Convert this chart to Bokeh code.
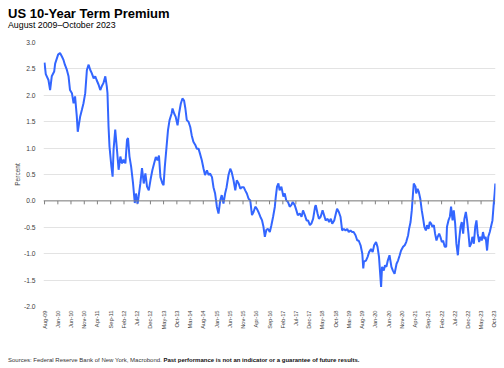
import math
import pandas as pd
from bokeh.plotting import figure
from bokeh.layouts import column
from bokeh.models import (Range1d, FixedTicker, NumeralTickFormatter, Span, Div,
                          ColumnDataSource)
from bokeh.embed import file_html
from bokeh.resources import INLINE

# ---------------- data ----------------
dates = [
    "2009-08-01", "2009-08-15", "2009-09-15", "2009-10-04", "2009-10-23", "2009-11-20", "2009-12-01",
    "2010-01-04", "2010-01-26", "2010-02-18", "2010-03-07", "2010-03-23", "2010-04-15", "2010-05-04",
    "2010-05-21", "2010-06-12", "2010-07-01", "2010-07-18", "2010-08-07", "2010-08-18", "2010-09-15",
    "2010-10-04", "2010-10-23", "2010-11-12", "2010-12-01", "2010-12-21", "2011-01-09", "2011-01-26",
    "2011-02-17", "2011-03-07", "2011-03-23", "2011-04-15", "2011-05-04", "2011-05-21", "2011-06-09",
    "2011-07-01", "2011-07-18", "2011-07-26", "2011-08-07", "2011-08-18", "2011-09-09", "2011-09-23",
    "2011-10-04", "2011-10-23", "2011-11-12", "2011-12-01", "2011-12-21", "2012-01-09", "2012-01-26",
    "2012-02-17", "2012-03-07", "2012-03-18", "2012-04-04", "2012-04-23", "2012-05-15", "2012-06-04",
    "2012-06-18", "2012-07-07", "2012-07-18", "2012-08-07", "2012-08-26", "2012-09-15", "2012-10-04",
    "2012-10-23", "2012-11-12", "2012-12-01", "2012-12-23", "2013-01-12", "2013-02-01", "2013-02-20",
    "2013-03-09", "2013-03-26", "2013-04-18", "2013-05-01", "2013-05-15", "2013-06-04", "2013-06-21",
    "2013-07-09", "2013-08-01", "2013-08-12", "2013-09-01", "2013-09-18", "2013-10-09", "2013-10-26",
    "2013-11-15", "2013-12-04", "2013-12-23", "2014-01-07", "2014-01-23", "2014-02-12", "2014-03-04",
    "2014-03-21", "2014-04-09", "2014-05-01", "2014-05-18", "2014-06-07", "2014-06-23", "2014-07-15",
    "2014-08-04", "2014-08-21", "2014-09-12", "2014-10-01", "2014-10-18", "2014-11-09", "2014-11-26",
    "2014-12-15", "2015-01-04", "2015-01-23", "2015-02-12", "2015-03-01", "2015-03-21", "2015-04-09",
    "2015-04-26", "2015-05-18", "2015-06-07", "2015-06-23", "2015-07-15", "2015-08-04", "2015-08-21",
    "2015-09-12", "2015-10-01", "2015-10-18", "2015-11-09", "2015-11-26", "2015-12-15", "2016-01-04",
    "2016-01-23", "2016-02-12", "2016-03-01", "2016-03-21", "2016-04-09", "2016-04-26", "2016-05-18",
    "2016-06-07", "2016-06-23", "2016-07-09", "2016-07-26", "2016-08-15", "2016-09-04", "2016-09-21",
    "2016-10-12", "2016-11-01", "2016-11-12", "2016-11-26", "2016-12-12", "2016-12-26", "2017-01-15",
    "2017-02-07", "2017-02-23", "2017-03-12", "2017-04-01", "2017-04-21", "2017-05-09", "2017-05-26",
    "2017-06-18", "2017-07-07", "2017-07-23", "2017-08-15", "2017-09-04", "2017-09-21", "2017-10-12",
    "2017-11-01", "2017-11-18", "2017-12-09", "2017-12-26", "2018-01-15", "2018-02-07", "2018-02-15",
    "2018-03-07", "2018-03-23", "2018-04-12", "2018-05-04", "2018-05-21", "2018-06-09", "2018-07-01",
    "2018-07-18", "2018-08-07", "2018-08-23", "2018-09-15", "2018-10-04", "2018-10-18", "2018-11-07",
    "2018-11-26", "2018-12-15", "2019-01-04", "2019-01-23", "2019-02-12", "2019-03-01", "2019-03-21",
    "2019-04-09", "2019-04-26", "2019-05-18", "2019-06-07", "2019-06-23", "2019-07-15", "2019-08-04",
    "2019-08-15", "2019-08-23", "2019-09-15", "2019-10-04", "2019-10-21", "2019-11-12", "2019-12-01",
    "2019-12-18", "2020-01-09", "2020-01-26", "2020-02-12", "2020-02-23", "2020-03-07", "2020-03-18",
    "2020-04-07", "2020-04-21", "2020-05-07", "2020-05-23", "2020-06-12", "2020-07-04", "2020-07-21",
    "2020-08-09", "2020-09-01", "2020-09-18", "2020-10-07", "2020-10-23", "2020-11-15", "2020-12-04",
    "2020-12-21", "2021-01-12", "2021-01-23", "2021-02-09", "2021-02-23", "2021-03-09", "2021-03-18",
    "2021-04-07", "2021-04-15", "2021-05-01", "2021-05-15", "2021-06-01", "2021-06-18", "2021-07-04",
    "2021-07-18", "2021-08-04", "2021-08-18", "2021-09-04", "2021-09-18", "2021-10-04", "2021-10-18",
    "2021-11-04", "2021-11-18", "2021-12-04", "2021-12-18", "2022-01-04", "2022-01-18", "2022-02-04",
    "2022-02-18", "2022-03-09", "2022-03-26", "2022-04-04", "2022-04-21", "2022-05-07", "2022-05-21",
    "2022-06-07", "2022-06-21", "2022-07-07", "2022-07-21", "2022-08-07", "2022-08-21", "2022-09-07",
    "2022-09-21", "2022-10-07", "2022-10-21", "2022-11-07", "2022-11-21", "2022-12-07", "2022-12-21",
    "2023-01-07", "2023-01-21", "2023-02-07", "2023-02-23", "2023-03-09", "2023-03-23", "2023-04-09",
    "2023-04-23", "2023-05-09", "2023-05-23", "2023-06-09", "2023-06-23", "2023-07-09", "2023-07-23",
    "2023-08-09", "2023-08-23", "2023-09-09", "2023-09-21", "2023-10-04", "2023-10-12",
]
term_premium = [
    2.62, 2.40, 2.29, 2.10, 2.36, 2.45, 2.60,
    2.77, 2.80, 2.73, 2.67, 2.58, 2.48, 2.36,
    2.10, 2.04, 1.85, 1.98, 1.60, 1.31, 1.60,
    1.72, 1.85, 2.04, 2.48, 2.58, 2.48, 2.42,
    2.32, 2.36, 2.29, 2.20, 2.10, 2.17, 2.23,
    2.36, 2.17, 2.04, 1.41, 1.03, 0.65, 0.46,
    0.97, 1.35, 0.97, 0.59, 0.84, 0.71, 0.78,
    0.71, 1.16, 1.19, 0.84, 0.65, 0.33, -0.04,
    0.14, -0.05, 0.08, 0.33, 0.62, 0.33, 0.52,
    0.27, 0.20, 0.39, 0.58, 0.71, 0.83, 0.77,
    0.86, 0.45, 0.33, 0.30, 0.64, 1.02, 1.34,
    1.53, 1.65, 1.75, 1.65, 1.59, 1.43, 1.65,
    1.84, 1.94, 1.90, 1.75, 1.53, 1.50, 1.40,
    1.24, 1.12, 1.06, 0.99, 0.99, 0.90, 0.77,
    0.61, 0.49, 0.58, 0.49, 0.52, 0.45, 0.26,
    0.14, -0.11, -0.24, 0.01, 0.11, -0.05, 0.14,
    0.26, 0.49, 0.61, 0.55, 0.39, 0.20, 0.39,
    0.33, 0.23, 0.26, 0.26, 0.20, 0.14, 0.04,
    0.01, -0.27, -0.21, -0.11, -0.15, -0.21, -0.30,
    -0.37, -0.49, -0.68, -0.55, -0.53, -0.59, -0.47,
    -0.30, -0.11, 0.08, 0.27, 0.33, 0.20, 0.27,
    0.08, 0.14, 0.01, -0.02, -0.11, -0.08, -0.02,
    -0.08, -0.18, -0.27, -0.24, -0.30, -0.18, -0.27,
    -0.37, -0.37, -0.46, -0.43, -0.34, -0.11, -0.08,
    -0.24, -0.34, -0.30, -0.18, -0.27, -0.37, -0.34,
    -0.40, -0.34, -0.43, -0.37, -0.24, -0.15, -0.21,
    -0.30, -0.56, -0.53, -0.56, -0.53, -0.59, -0.56,
    -0.59, -0.59, -0.65, -0.75, -0.75, -0.84, -1.00,
    -1.28, -1.15, -1.13, -1.06, -0.97, -0.91, -0.97,
    -0.84, -0.78, -0.87, -1.06, -1.32, -1.63, -1.25,
    -1.32, -1.22, -1.25, -1.13, -1.03, -1.25, -1.32,
    -1.38, -1.19, -1.13, -1.03, -0.94, -0.87, -0.84,
    -0.78, -0.65, -0.53, -0.40, -0.18, 0.14, 0.33,
    0.27, 0.14, 0.23, 0.17, 0.04, -0.18, -0.34,
    -0.49, -0.56, -0.46, -0.53, -0.40, -0.43, -0.49,
    -0.46, -0.62, -0.75, -0.68, -0.62, -0.68, -0.78,
    -0.75, -0.87, -0.87, -0.49, -0.37, -0.30, -0.11,
    -0.37, -0.18, -0.43, -0.81, -1.03, -0.75, -0.49,
    -0.40, -0.62, -0.34, -0.21, -0.37, -0.62, -0.87,
    -0.81, -0.68, -0.81, -0.49, -0.37, -0.62, -0.78,
    -0.68, -0.75, -0.59, -0.72, -0.68, -0.94, -0.68,
    -0.59, -0.49, -0.37, -0.11, 0.14, 0.33,
]
x_tick_labels = [
    "Aug-09", "Jan-10", "Jun-10", "Nov-10", "Apr-11", "Sep-11", "Feb-12", "Jul-12",
    "Dec-12", "May-13", "Oct-13", "Mar-14", "Aug-14", "Jan-15", "Jun-15", "Nov-15",
    "Apr-16", "Sep-16", "Feb-17", "Jul-17", "Dec-17", "May-18", "Oct-18", "Mar-19",
    "Aug-19", "Jan-20", "Jun-20", "Nov-20", "Apr-21", "Sep-21", "Feb-22", "Jul-22",
    "Dec-22", "May-23", "Oct-23",
]
y_ticks = [-2.0, -1.5, -1.0, -0.5, 0.0, 0.5, 1.0, 1.5, 2.0, 2.5, 3.0]

title_text = "US 10-Year Term Premium"
subtitle_text = "August 2009\u2013October 2023"
source_text = "Sources: Federal Reserve Bank of New York, Macrobond."
disclaimer_text = "Past performance is not an indicator or a guarantee of future results."
y_label_text = "Percent"

# ---------------- derived ----------------
x_dt = pd.to_datetime(dates)
tick_dt = pd.to_datetime(x_tick_labels, format="%b-%y")
tick_ms = [int(t.value // 10**6) for t in tick_dt]

src = ColumnDataSource(dict(x=x_dt, y=term_premium))
tick_src = ColumnDataSource(dict(x=tick_dt, y0=[0.0] * len(tick_dt), y1=[-0.065] * len(tick_dt)))

FONT = "Liberation Sans"

header = Div(
    text=(f'<div style="font-family:\'{FONT}\';color:#000;padding:7.3px 0 0 8px;margin:0;">'
          f'<div style="font-size:13px;line-height:13px;font-weight:bold;white-space:nowrap;">{title_text}</div>'
          f'<div style="font-size:8.8px;line-height:10px;white-space:nowrap;">{subtitle_text}</div>'
          f'</div>'),
    width=504, height=34, margin=0)

p = figure(width=504, height=316, x_axis_type="datetime", output_backend="svg",
           toolbar_location=None, title=None,
           x_range=Range1d(pd.Timestamp("2009-07-20"), pd.Timestamp("2023-10-14")),
           y_range=Range1d(-2.0, 3.0),
           min_border_left=43, min_border_right=9, min_border_top=8, min_border_bottom=44,
           margin=0)
p.outline_line_color = None
p.background_fill_color = "white"
p.border_fill_color = "white"

p.xgrid.grid_line_color = None
p.ygrid.grid_line_color = "#e3e3e3"
p.ygrid.grid_line_width = 1

# axes
p.yaxis.ticker = FixedTicker(ticks=y_ticks)
p.yaxis.formatter = NumeralTickFormatter(format="0.0")
p.yaxis.axis_line_color = None
p.yaxis.major_tick_line_color = None
p.yaxis.minor_tick_line_color = None
p.yaxis.major_tick_out = 0
p.yaxis.major_tick_in = 0
p.yaxis.minor_tick_out = 0
p.yaxis.major_label_standoff = 8
p.yaxis.major_label_text_font = FONT
p.yaxis.major_label_text_font_size = "6.7px"
p.yaxis.major_label_text_color = "#404040"
p.yaxis.axis_label = y_label_text
p.yaxis.axis_label_standoff = 0
p.yaxis.axis_label_text_font = FONT
p.yaxis.axis_label_text_font_size = "6.5px"
p.yaxis.axis_label_text_font_style = "normal"
p.yaxis.axis_label_text_color = "#404040"

p.xaxis.ticker = FixedTicker(ticks=tick_ms)
p.xaxis.major_label_overrides = {ms: lab for ms, lab in zip(tick_ms, x_tick_labels)}
p.xaxis.axis_line_color = None
p.xaxis.major_tick_line_color = None
p.xaxis.minor_tick_line_color = None
p.xaxis.major_tick_out = 0
p.xaxis.major_tick_in = 0
p.xaxis.minor_tick_out = 0
p.xaxis.major_label_orientation = math.pi / 2
p.xaxis.major_label_standoff = 4
p.xaxis.major_label_text_font = FONT
p.xaxis.major_label_text_font_size = "5.7px"
p.xaxis.major_label_text_color = "#404040"

# zero line with tick marks
p.add_layout(Span(location=0, dimension="width", line_color="#808080", line_width=1))
p.segment(x0="x", y0="y0", x1="x", y1="y1", source=tick_src, line_color="#808080", line_width=1)

# series
p.line("x", "y", source=src, line_color="#3366ff", line_width=2)

footer = Div(
    text=(f'<div style="font-family:\'{FONT}\';font-size:6px;line-height:6px;color:#333;'
          f'padding:3.4px 0 0 8px;margin:0;white-space:nowrap;">'
          f'{source_text} <b style="color:#111;">{disclaimer_text}</b></div>'),
    width=504, height=18, margin=0)

layout = column(header, p, footer, spacing=0, margin=0)

open("out.html", "w").write(file_html(layout, INLINE))
